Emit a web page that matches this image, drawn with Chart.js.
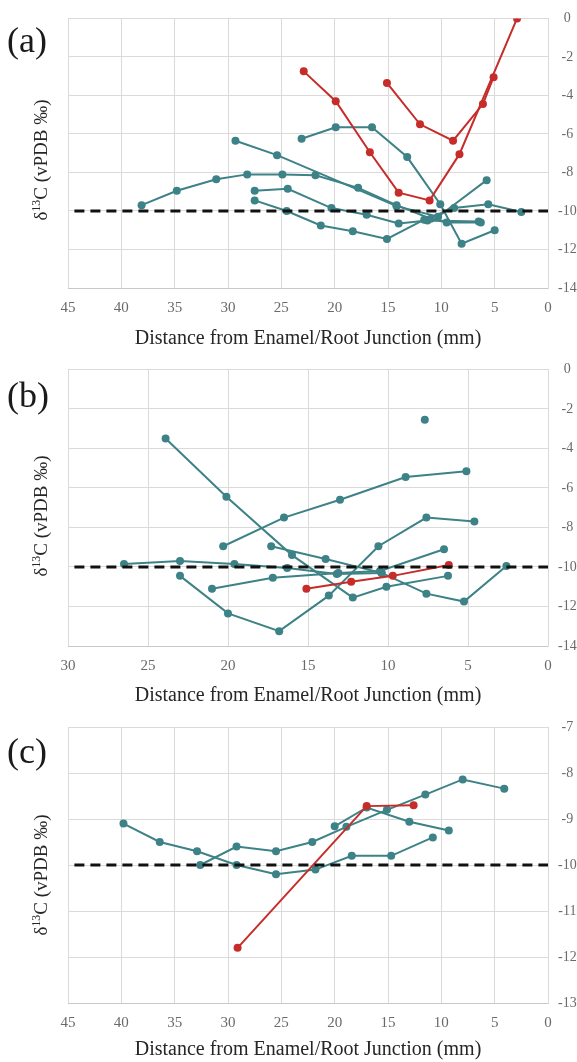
<!DOCTYPE html>
<html><head><meta charset="utf-8">
<script src="https://cdn.jsdelivr.net/npm/chart.js@4/dist/chart.umd.min.js"></script>
<style>
html,body{margin:0;padding:0;background:#fff;}
body{width:577px;height:1062px;position:relative;overflow:hidden;font-family:"Liberation Serif",serif;}
canvas{position:absolute;left:0;}
.pl{position:absolute;left:7px;font-size:36px;line-height:1;color:#1a1a1a;transform:translateY(-50%);}
.yt{position:absolute;left:40px;font-size:19px;color:#262626;white-space:nowrap;line-height:1;transform:translate(-50%,-50%) rotate(-90deg);}
.yt sup{font-size:0.62em;vertical-align:0.55em;line-height:0;}
</style></head><body>
<canvas id="ca" width="577" height="351" style="top:0px"></canvas>
<canvas id="cb" width="577" height="357" style="top:351px"></canvas>
<canvas id="cc" width="577" height="354" style="top:708px"></canvas>
<div class="pl" style="top:40px">(a)</div>
<div class="pl" style="top:395px">(b)</div>
<div class="pl" style="top:751px">(c)</div>
<div class="yt" style="top:160px">δ<sup>13</sup>C (vPDB ‰)</div>
<div class="yt" style="top:516px">δ<sup>13</sup>C (vPDB ‰)</div>
<div class="yt" style="top:875px">δ<sup>13</sup>C (vPDB ‰)</div>
<script>
// ---------- Panel (a) ----------
const a_t1_x = [38.1, 34.8, 31.1, 28.2, 24.9, 21.8, 17.8, 14.2, 11.0, 9.5, 6.3];
const a_t1_y = [-9.7, -8.95, -8.35, -8.1, -8.1, -8.15, -8.8, -9.7, -10.4, -10.6, -10.6];
const a_t2_x = [29.3, 25.4, 14.2, 10.3, 5.75];
const a_t2_y = [-6.35, -7.1, -9.75, -10.3, -8.4];
const a_t3_x = [23.1, 19.9, 16.5, 13.2, 10.1, 8.1, 5.0];
const a_t3_y = [-6.25, -5.65, -5.65, -7.2, -9.65, -11.7, -11.0];
const a_t4_x = [27.5, 24.4, 20.3, 17.0, 14.0, 11.3, 6.5];
const a_t4_y = [-8.95, -8.85, -9.85, -10.2, -10.65, -10.5, -10.55];
const a_t5_x = [27.5, 24.5, 21.3, 18.3, 15.1, 11.6, 8.8, 5.6, 2.5];
const a_t5_y = [-9.45, -10.0, -10.75, -11.05, -11.45, -10.45, -9.85, -9.65, -10.05];
const a_r1_x = [22.9, 19.9, 16.7, 14.0, 11.1, 8.3, 2.9];
const a_r1_y = [-2.75, -4.3, -6.95, -9.05, -9.45, -7.05, 0];
const a_r2_x = [15.1, 12.0, 8.9, 6.1, 5.1];
const a_r2_y = [-3.35, -5.5, -6.35, -4.45, -3.05];
const a_ref_x = [44.4, 0];

// ---------- Panel (b) ----------
const b_t1_x = [23.9, 20.1, 16.0, 12.2, 10.1, 6.25];
const b_t1_y = [-3.5, -6.45, -9.4, -11.55, -11.0, -10.45];
const b_t2_x = [20.3, 16.5, 13.0, 8.9, 5.1];
const b_t2_y = [-8.95, -7.5, -6.6, -5.45, -5.15];
const b_t3_x = [26.5, 23.0, 19.6, 16.3, 13.2, 10.4];
const b_t3_y = [-9.85, -9.7, -9.85, -10.05, -10.35, -10.3];
const b_t4_x = [23.0, 20.0, 16.8, 13.7, 10.6, 7.6, 4.6];
const b_t4_y = [-10.45, -12.35, -13.25, -11.45, -8.95, -7.5, -7.7];
const b_t5_x = [21.0, 17.2, 13.1, 10.5, 6.5];
const b_t5_y = [-11.1, -10.55, -10.3, -10.2, -9.1];
const b_t6_x = [17.3, 13.9, 10.4, 7.6, 5.25, 2.6];
const b_t6_y = [-8.95, -9.6, -10.3, -11.35, -11.75, -9.95];
const b_t7_x = [7.7];
const b_t7_y = [-2.55];
const b_r1_x = [15.1, 12.3, 9.7, 6.2];
const b_r1_y = [-11.1, -10.75, -10.45, -9.9];
const b_ref_x = [29.6, 0];

// ---------- Panel (c) ----------
const c_t1_x = [39.8, 36.4, 32.9, 29.2, 25.5, 21.8, 18.4, 14.7, 10.8];
const c_t1_y = [-9.1, -9.5, -9.7, -10.0, -10.2, -10.1, -9.8, -9.8, -9.4];
const c_t2_x = [32.6, 29.2, 25.5, 22.1, 18.9, 15.1, 11.5, 8.0, 4.1];
const c_t2_y = [-10.0, -9.6, -9.7, -9.5, -9.17, -8.8, -8.47, -8.14, -8.34];
const c_t3_x = [20.0, 17.0, 13.0, 9.3];
const c_t3_y = [-9.16, -8.75, -9.06, -9.25];
const c_r1_x = [29.1, 17.0, 12.6];
const c_r1_y = [-11.8, -8.72, -8.7];
const c_ref_x = [44.4, 0];

const ref_y = [-10, -10];
const xTitle = 'Distance from Enamel/Root Junction (mm)';

const TEAL = '#3d8286';
const RED = '#c62d2a';

function pts(xs, ys) { return xs.map((x, i) => ({ x: x, y: ys[i] })); }

function series(xs, ys, color, order, line) {
  return { data: pts(xs, ys), borderColor: color, backgroundColor: color,
    borderWidth: 2, pointRadius: 4, pointBorderWidth: 0, showLine: line !== false, order: order };
}

function makeChart(id, cfg) {
  const datasets = [];
  datasets.push({ data: pts(cfg.refX, ref_y), borderColor: '#111', borderWidth: 3,
    borderDash: [10, 6], pointRadius: 0, showLine: true, order: 0 });
  cfg.red.forEach(s => datasets.push(series(s[0], s[1], RED, 1)));
  cfg.teal.forEach(s => datasets.push(series(s[0], s[1], TEAL, 2, s[2])));
  new Chart(document.getElementById(id), {
    type: 'scatter',
    data: { datasets: datasets },
    options: {
      responsive: false, animation: false, devicePixelRatio: 1,
      layout: { padding: { top: cfg.padTop, left: 68, right: 0, bottom: 0 } },
      plugins: { legend: { display: false }, tooltip: { enabled: false } },
      scales: {
        x: {
          type: 'linear', position: 'bottom', reverse: true, min: 0, max: cfg.xMax,
          ticks: { stepSize: 5, padding: 11, color: '#6a6a6a', font: { family: 'Liberation Serif', size: 15 } },
          grid: { color: '#dadada', lineWidth: 1, drawTicks: false },
          border: { display: true, color: '#c8c8c8', width: 1 },
          title: { display: true, text: xTitle, color: '#262626',
            font: { family: 'Liberation Serif', size: 20 }, padding: { top: 0, bottom: 0 } },
          afterFit: s => { s.height = cfg.xH; }
        },
        y: {
          type: 'linear', position: 'right', min: cfg.yMin, max: cfg.yMax,
          ticks: { stepSize: cfg.yStep, padding: 10, crossAlign: 'center', color: '#6a6a6a',
            font: { family: 'Liberation Serif', size: 14 } },
          grid: { color: '#dadada', lineWidth: 1, drawTicks: false },
          border: { display: true, color: '#dadada', width: 1 },
          afterFit: s => { s.width = 29; }
        }
      }
    }
  });
}

makeChart('ca', {
  padTop: 12, xH: 63, xMax: 45, yMin: -14, yMax: 0, yStep: 2, refX: a_ref_x,
  red: [[a_r1_x, a_r1_y], [a_r2_x, a_r2_y]],
  teal: [[a_t1_x, a_t1_y], [a_t2_x, a_t2_y], [a_t3_x, a_t3_y], [a_t4_x, a_t4_y], [a_t5_x, a_t5_y]]
});
makeChart('cb', {
  padTop: 16, xH: 62, xMax: 30, yMin: -14, yMax: 0, yStep: 2, refX: b_ref_x,
  red: [[b_r1_x, b_r1_y]],
  teal: [[b_t1_x, b_t1_y], [b_t2_x, b_t2_y], [b_t3_x, b_t3_y], [b_t4_x, b_t4_y],
         [b_t5_x, b_t5_y], [b_t6_x, b_t6_y], [b_t7_x, b_t7_y, false]]
});
makeChart('cc', {
  padTop: 19, xH: 59, xMax: 45, yMin: -13, yMax: -7, yStep: 1, refX: c_ref_x,
  red: [[c_r1_x, c_r1_y]],
  teal: [[c_t1_x, c_t1_y], [c_t2_x, c_t2_y], [c_t3_x, c_t3_y]]
});
</script>
</body></html>
